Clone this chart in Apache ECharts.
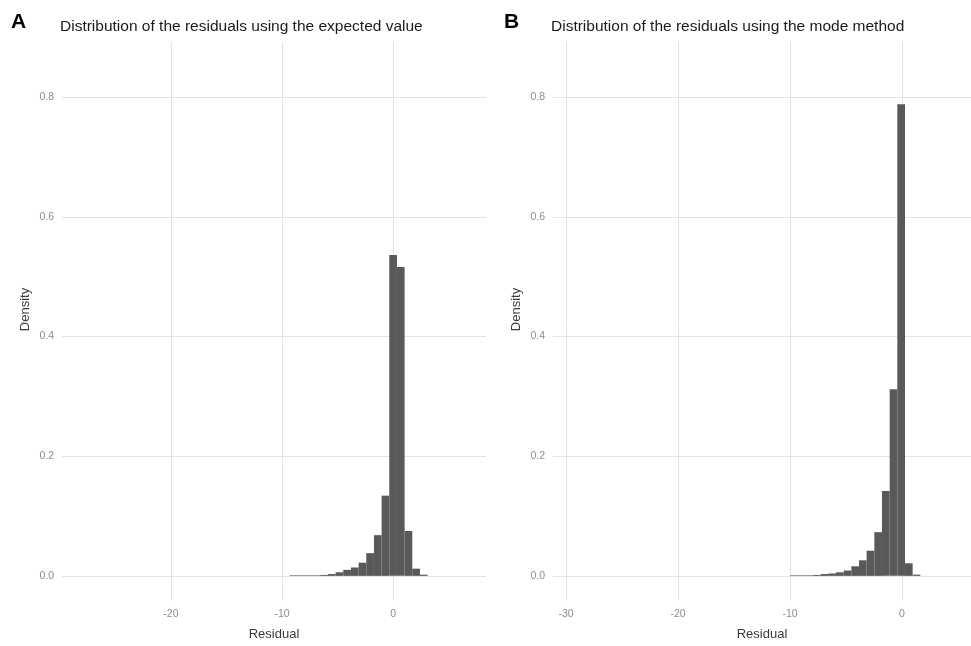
<!DOCTYPE html>
<html>
<head>
<meta charset="utf-8">
<title>Distribution of the residuals</title>
<script src="https://cdn.jsdelivr.net/npm/echarts@6/dist/echarts.min.js"></script>
<style>
  html, body { margin: 0; padding: 0; background: #fff; }
  #chart { width: 971px; height: 646px; }
</style>
</head>
<body>
<div id="chart"></div>
<script>
// histogram bin edges and densities
const edgesA = [-9.33, -8.64, -7.95, -7.26, -6.57, -5.88, -5.19, -4.50, -3.81, -3.12,
                -2.43, -1.74, -1.05, -0.36, 0.33, 1.02, 1.71, 2.40, 3.09]
const densityA = [0.001, 0.001, 0.001, 0.001, 0.0015, 0.003, 0.006, 0.010, 0.014, 0.022,
                  0.038, 0.068, 0.134, 0.536, 0.516, 0.075, 0.012, 0.002]

const edgesB = [-9.99, -9.31, -8.63, -7.94, -7.26, -6.58, -5.89, -5.21, -4.52, -3.84,
                -3.16, -2.47, -1.79, -1.10, -0.42, 0.27, 0.95, 1.64]
const densityB = [0.001, 0.001, 0.001, 0.0015, 0.003, 0.004, 0.006, 0.009, 0.016, 0.026,
                  0.042, 0.073, 0.142, 0.312, 0.788, 0.021, 0.002]

const xTicksA = [-20, -10, 0]
const xTicksB = [-30, -20, -10, 0]
const yTicks = [0, 0.2, 0.4, 0.6, 0.8]
const xRangeA = [-29.8, 8.34]
const xRangeB = [-31.16, 6.16]
const yRange = [-0.042, 0.892]

const FONT = "'Liberation Sans', Arial, sans-serif"
const GRID_COLOR = '#e3e3e3'

function toBins(edges, dens) {
  return dens.map((d, i) => [edges[i], edges[i + 1], d])
}

function drawBin(params, api) {
  const topLeft = api.coord([api.value(0), api.value(2)])
  const bottomRight = api.coord([api.value(1), 0])
  return {
    type: 'rect',
    shape: {
      x: topLeft[0],
      y: topLeft[1],
      width: bottomRight[0] - topLeft[0],
      height: bottomRight[1] - topLeft[1]
    },
    style: { fill: '#595959' }
  }
}

function xAxisFor(idx, range, ticks) {
  return {
    type: 'value',
    gridIndex: idx,
    min: range[0],
    max: range[1],
    name: 'Residual',
    nameLocation: 'middle',
    nameGap: 27,
    nameTextStyle: { fontFamily: FONT, fontSize: 13, color: '#3a3a3a' },
    axisLine: { show: false },
    axisTick: { show: false, customValues: ticks },
    axisLabel: {
      customValues: ticks,
      margin: 8,
      fontFamily: FONT,
      fontSize: 10.5,
      color: '#8c8c8c'
    },
    splitLine: { show: true, lineStyle: { color: GRID_COLOR, width: 1 } }
  }
}

function yAxisFor(idx) {
  return {
    type: 'value',
    gridIndex: idx,
    min: yRange[0],
    max: yRange[1],
    name: 'Density',
    nameLocation: 'middle',
    nameGap: 30,
    nameTextStyle: { fontFamily: FONT, fontSize: 13, color: '#3a3a3a', padding: [0, 0, 0, 24] },
    axisLine: { show: false },
    axisTick: { show: false, customValues: yTicks },
    axisLabel: {
      customValues: yTicks,
      margin: 8,
      fontFamily: FONT,
      fontSize: 10.5,
      color: '#8c8c8c',
      formatter: v => v.toFixed(1)
    },
    splitLine: { show: true, lineStyle: { color: GRID_COLOR, width: 1 } }
  }
}

const chart = echarts.init(document.getElementById('chart'))

const panelLetter = { fontFamily: FONT, fontSize: 21, fontWeight: 'bold', color: '#000' }
const panelTitle = { fontFamily: FONT, fontSize: 15.5, fontWeight: 'normal', color: '#1a1a1a' }

const option = {
  backgroundColor: '#fff',
  animation: false,
  title: [
    { text: 'A', left: 11, top: 12, padding: 0, textStyle: panelLetter },
    { text: 'Distribution of the residuals using the expected value', left: 60, top: 19, padding: 0, textStyle: panelTitle },
    { text: 'B', left: 504, top: 12, padding: 0, textStyle: panelLetter },
    { text: 'Distribution of the residuals using the mode method', left: 551, top: 19, padding: 0, textStyle: panelTitle }
  ],
  grid: [
    { left: 62, right: 485, top: 42, bottom: 44 },
    { left: 553, right: 0, top: 42, bottom: 44 }
  ],
  xAxis: [xAxisFor(0, xRangeA, xTicksA), xAxisFor(1, xRangeB, xTicksB)],
  yAxis: [yAxisFor(0), yAxisFor(1)],
  series: [
    {
      type: 'custom',
      xAxisIndex: 0,
      yAxisIndex: 0,
      renderItem: drawBin,
      encode: { x: [0, 1], y: 2 },
      data: toBins(edgesA, densityA)
    },
    {
      type: 'custom',
      xAxisIndex: 1,
      yAxisIndex: 1,
      renderItem: drawBin,
      encode: { x: [0, 1], y: 2 },
      data: toBins(edgesB, densityB)
    }
  ]
}

chart.setOption(option)
</script>
</body>
</html>
